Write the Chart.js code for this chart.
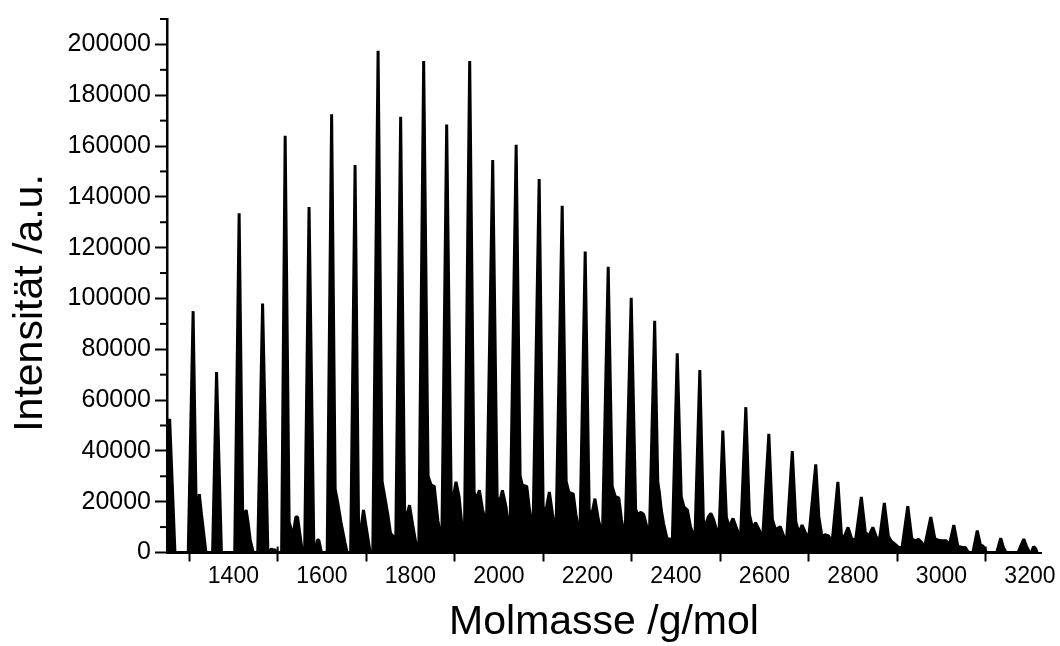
<!DOCTYPE html>
<html><head><meta charset="utf-8">
<script src="https://cdn.jsdelivr.net/npm/chart.js@4.4.1/dist/chart.umd.min.js"></script>
<style>html,body{margin:0;padding:0;background:#fff;}canvas{display:block;}</style>
</head><body>
<canvas id="c" width="1060" height="646"></canvas>
<script>
// Spectrum trace (mass in g/mol, intensity in a.u.), vertices
const specMass = [
1250,1256,1268,1298,1309,1316,1318,1323,1328,1338,
1353,1362,1373,1403,1413,1421,1423,1429,1433,1438,1445,
1455,1466,1478,1482,1486,1490,1494,1496,
1509,1517,1526,1531,1536,1541,1545,1556,
1561,1571,1582,1585,1590,1593,1599,
1612,1622,1630,1636,1643,1652,1657,
1665,1675,1683,1687,1694,1700,1709,
1715,1727,1736,1741,1749,1755,1762,1767,
1778,1787,1791,1798,1805,1812,1819,
1830,1840,1847,1854,1862,1871,
1882,1892,1896,1903,1910,1919,1922,
1934,1944,1948,1956,1963,1972,
1986,1996,2001,2008,2016,2025,
2039,2048,2053,2063,2069,2077,
2091,2100,2105,2114,2121,2129,
2143,2152,2158,2168,2174,2183,
2195,2204,2209,2217,2225,2234,
2247,2256,2263,2271,2277,2285,
2299,2309,2314,2321,2327,2336,2340,
2352,2359,2363,2367,2372,2380,2392,
2403,2412,2418,2426,2433,2443,
2454,2462,2467,2473,2479,2485,2490,2497,
2506,2514,2520,2529,2536,2546,
2558,2566,2573,2580,2588,2596,
2610,2618,2625,2636,2644,2650,
2663,2671,2678,2685,2692,2700,
2716,2723,2730,2737,2745,2753,
2766,2774,2779,2789,2797,2806,
2819,2828,2836,2845,2853,2860,
2871,2880,2886,2893,2903,2911,
2924,2933,2940,2948,2955,2962,
2976,2985,2993,3001,3011,3018,
3028,3037,3047,3054,3061,
3071,3081,3088,3094,3102,
3125,3134,3140,3146,
3173,3186,3192,3199,3203,3208,3213,3216
];
const specInt = [
50000,52500,0,0,95000,16000,14700,23000,15000,0,
0,71000,0,0,133500,15000,14000,16700,12000,5000,0,
0,98000,0,0,1500,800,1200,0,
0,164000,12000,8800,8000,14000,14000,0,
0,136000,0,0,4900,4900,0,
0,172500,25000,19500,12000,4000,0,
0,152500,9000,7600,16700,10000,0,
0,197500,28000,23000,15000,7600,6200,5000,
171500,16000,14000,18600,11000,4000,2500,
193500,30000,26500,26000,12700,3500,
168500,24000,20600,27800,22000,6000,5000,
193500,24000,20600,24500,17000,11000,
154500,22000,19400,24500,18000,5500,
160500,30000,26500,26000,17000,8000,
147000,18000,15400,23800,15400,7000,
136500,28000,23800,23000,15000,6000,
118500,17000,14000,21200,12700,6500,
112500,26000,22000,21500,13000,5000,
100300,17000,15000,15800,15000,9000,6000,
91200,28000,23000,16700,11500,5500,5000,
78400,22000,18000,16700,10000,5500,
71800,13000,10000,14000,15400,13000,10000,5800,
48000,14000,10000,13400,10000,5700,
57200,15000,9800,11700,9000,5500,
46700,13000,9000,10100,6200,5000,
39900,12000,7600,10800,8000,5500,
34700,14000,6200,7000,6500,4000,
27800,7000,5500,9900,5500,4800,
21900,8000,6500,9900,6000,5000,
19500,6500,4500,3600,2000,2000,
18200,5500,4500,5200,4000,2300,
14000,5500,4800,4600,4600,3000,
10800,2500,2000,2000,0,
0,8600,3000,2500,0,
0,5600,2000,0,
0,5300,2500,0,0,2300,1500,0
];
const xTickMarks  = [1300,1500,1700,1900,2100,2300,2500,2700,2900,3100];
const xTickLabels = [1400,1600,1800,2000,2200,2400,2600,2800,3000,3200];
const yTickLabels = [0,20000,40000,60000,80000,100000,120000,140000,160000,180000,200000];
const yMinorTicks = [10000,30000,50000,70000,90000,110000,130000,150000,170000,190000,210000];
const xTitle = 'Molmasse /g/mol';
const yTitle = 'Intensität /a.u.';

const FONT = "'Liberation Sans', Arial, Helvetica, sans-serif";

const axisExtras = {
  id: 'axisExtras',
  afterDraw(chart) {
    const ctx = chart.ctx, xs = chart.scales.x, ys = chart.scales.y, a = chart.chartArea;
    ctx.save();
    ctx.strokeStyle = '#000';
    ctx.lineWidth = 2;
    // short minor ticks on the y axis
    yMinorTicks.forEach(v => {
      const py = ys.getPixelForValue(v);
      ctx.beginPath();
      ctx.moveTo(a.left - 7, py);
      ctx.lineTo(a.left, py);
      ctx.stroke();
    });
    // inward part of the x ticks
    xTickMarks.forEach(v => {
      const px = xs.getPixelForValue(v);
      ctx.beginPath();
      ctx.moveTo(px, a.bottom);
      ctx.lineTo(px, a.bottom - 6);
      ctx.stroke();
    });
    // y-axis title
    ctx.fillStyle = '#000';
    ctx.font = '41px ' + FONT;
    ctx.textAlign = 'center';
    ctx.textBaseline = 'alphabetic';
    ctx.translate(42, 303);
    ctx.rotate(-Math.PI / 2);
    ctx.fillText(yTitle, 0, 0);
    ctx.restore();
  }
};

new Chart(document.getElementById('c'), {
  type: 'line',
  data: {
    datasets: [{
      data: specMass.map((m, i) => ({x: m, y: specInt[i]})),
      borderColor: '#000',
      backgroundColor: '#000',
      borderWidth: 3,
      borderJoinStyle: 'bevel',
      pointRadius: 0,
      tension: 0,
      fill: 'origin'
    }]
  },
  options: {
    responsive: false,
    animation: false,
    layout: {padding: {left: 0, right: 19, top: 16, bottom: 0}},
    plugins: {legend: {display: false}, tooltip: {enabled: false}},
    scales: {
      x: {
        type: 'linear',
        min: 1250, max: 3225,
        afterBuildTicks: s => { s.ticks = xTickMarks.concat(xTickLabels).sort((a,b)=>a-b).map(v => ({value: v})); },
        afterFit: s => { s.height = 93.5; },
        ticks: {
          autoSkip: false, maxRotation: 0, padding: 1, color: '#000',
          font: {family: FONT, size: 23},
          callback: v => xTickLabels.includes(v) ? String(v) : ''
        },
        grid: {
          drawOnChartArea: false, drawTicks: true, tickLength: 9, tickWidth: 2,
          tickColor: c => (c.tick && xTickMarks.includes(c.tick.value)) ? '#000' : 'rgba(0,0,0,0)'
        },
        border: {display: true, color: '#000', width: 2},
        title: {display: true, text: xTitle, color: '#000',
                font: {family: FONT, size: 41, lineHeight: 1.15}, padding: {top: 0, bottom: 0}}
      },
      y: {
        min: 0, max: 210000,
        afterBuildTicks: s => { s.ticks = yTickLabels.map(v => ({value: v})); },
        afterFit: s => { s.width = 167; },
        ticks: {
          color: '#000', padding: 4,
          font: {family: FONT, size: 25},
          callback: v => String(v)
        },
        grid: {drawOnChartArea: false, drawTicks: true, tickLength: 12, tickWidth: 2, tickColor: '#000'},
        border: {display: true, color: '#000', width: 2.5},
        title: {display: false}
      }
    }
  },
  plugins: [axisExtras]
});
</script>
</body></html>
